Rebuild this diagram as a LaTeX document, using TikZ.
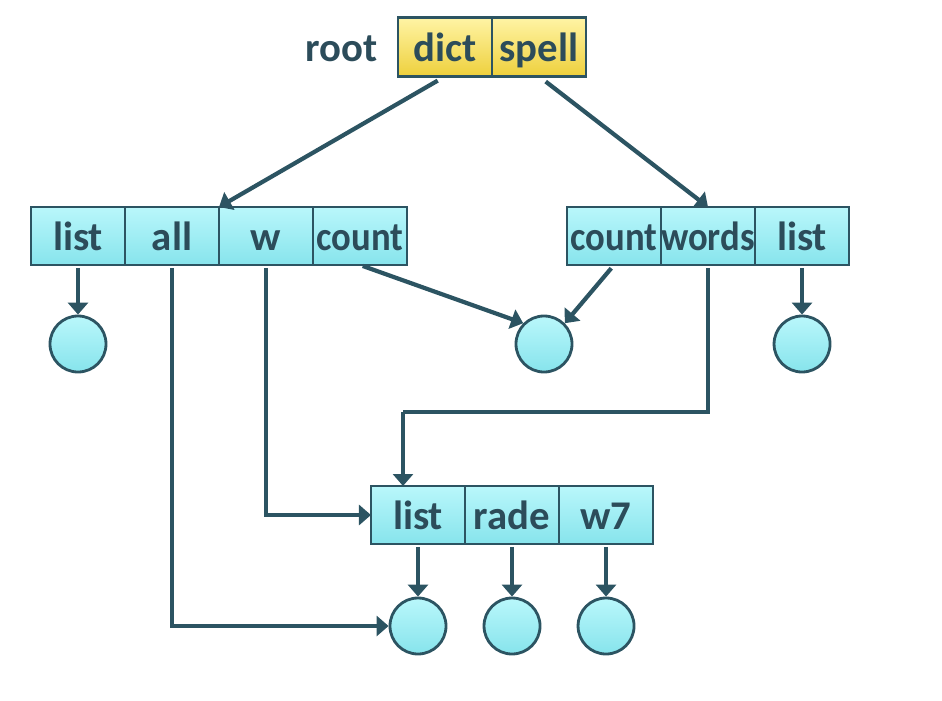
\documentclass[tikz,border=0pt]{standalone}
\usepackage{fontspec}
\setmainfont{Carlito}
\usepackage{xcolor}
\usetikzlibrary{arrows.meta,positioning}
\definecolor{edgecol}{RGB}{44,84,98}
\definecolor{textcol}{RGB}{44,76,90}
\definecolor{cyantop}{RGB}{185,247,251}
\definecolor{cyanbot}{RGB}{135,228,236}
\definecolor{yeltop}{RGB}{255,244,165}
\definecolor{yelbot}{RGB}{238,208,60}

\begin{document}
\begin{tikzpicture}[x=0.025cm,y=-0.025cm,>={Triangle[length=0.3cm,width=0.5cm]},
    cell/.style={draw=edgecol,line width=2pt,top color=cyantop,bottom color=cyanbot,
      minimum width=2.35cm,minimum height=1.45cm,inner sep=0pt,outer sep=0pt,
      text height=22pt,text depth=2pt,
      font=\bfseries\fontsize{29}{29}\selectfont,text=textcol},
    rootcell/.style={cell,top color=yeltop,bottom color=yelbot,minimum height=1.47cm},
    ball/.style={circle,draw=edgecol,line width=2pt,top color=cyantop,bottom color=cyanbot,
      minimum size=1.4cm,inner sep=0pt},
    ptr/.style={->,draw=edgecol,line width=3pt},
    wire/.style={draw=edgecol,line width=3pt}]
  \useasboundingbox (0,0) rectangle (942,700);

  % root record
  \node[rootcell] (dict) at (445,47) {dict};
  \node[rootcell,right=0pt of dict] (spell) {spell};
  \node[font=\bfseries\fontsize{29}{29}\selectfont,text=textcol,inner sep=0pt,
    text height=22pt,text depth=2pt,left=0.5cm of dict] (rootlbl) {root};

  % dict record
  \node[cell] (llist) at (78,236) {list};
  \node[cell,right=0pt of llist] (lall) {all};
  \node[cell,right=0pt of lall] (lw) {w};
  \node[cell,right=0pt of lw] (lcount) {\scalebox{0.9}[1]{count}};

  % spell record
  \node[cell] (rcount) at (614,236) {\scalebox{0.9}[1]{count}};
  \node[cell,right=0pt of rcount] (rwords) {\scalebox{0.9}[1]{words}};
  \node[cell,right=0pt of rwords] (rlist) {list};

  % shared record
  \node[cell] (blist) at (418,515) {list};
  \node[cell,right=0pt of blist] (brade) {rade};
  \node[cell,right=0pt of brade] (bw) {w7};

  % values
  \node[ball] (v1) at (llist.south |- 0,344) {};
  \node[ball] (v2) at (544,344) {};
  \node[ball] (v3) at (rlist.south |- 0,344) {};
  \node[ball] (v4) at (blist.south |- 0,626) {};
  \node[ball] (v5) at (brade.south |- 0,626) {};
  \node[ball] (v6) at (bw.south |- 0,626) {};

  \coordinate (wturn) at (403,412);

  % pointers
  \draw[ptr,shorten <=6pt] (dict.south) -- (lall.north east);
  \draw[ptr,shorten <=6pt] (spell.south) -- (rwords.north);
  \draw[ptr,shorten <=2pt] (llist.south) -- (v1.north);
  \draw[ptr,shorten <=2pt] (lall.south) |- (v4.west);
  \draw[ptr,shorten <=2pt] (lw.south) |- (blist.west);
  \draw[ptr,shorten <=2pt] (lcount.south) -- (v2.north west);
  \draw[ptr,shorten <=3pt] (rcount.south) -- (v2.north east);
  \draw[wire,shorten <=2pt] (rwords.south) |- (wturn);
  \draw[ptr] (wturn) -- (wturn |- blist.north);
  \draw[ptr,shorten <=2pt] (rlist.south) -- (v3.north);
  \draw[ptr,shorten <=2pt] (blist.south) -- (v4.north);
  \draw[ptr,shorten <=2pt] (brade.south) -- (v5.north);
  \draw[ptr,shorten <=2pt] (bw.south) -- (v6.north);
\end{tikzpicture}
\end{document}
